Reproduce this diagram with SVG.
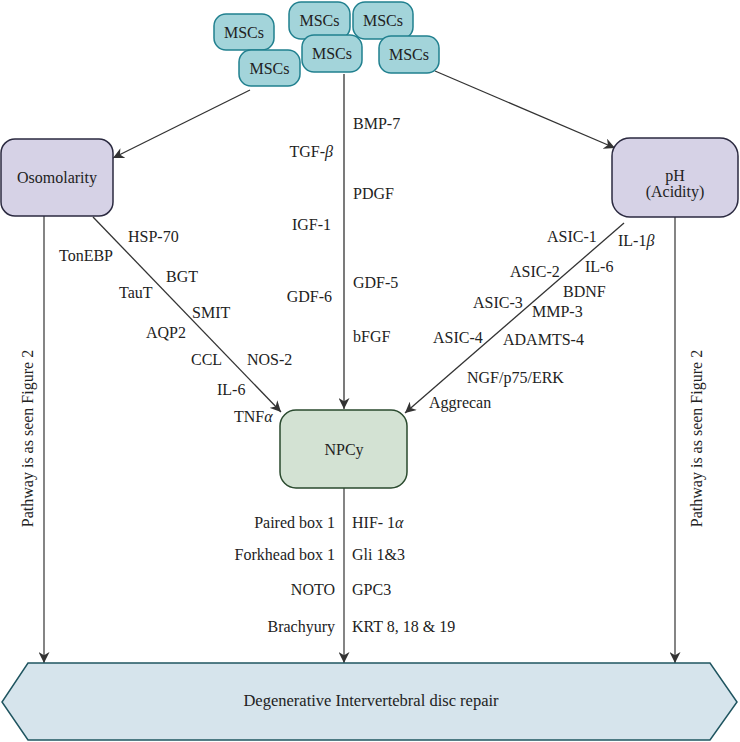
<svg xmlns="http://www.w3.org/2000/svg" width="740" height="742" viewBox="0 0 740 742" font-family="'Liberation Serif', serif">
<style>
svg text{font-family:'Liberation Serif','DejaVu Serif',serif;font-size:16px;fill:#222}
.msc rect{fill:#a3d4da;stroke:#21808f;stroke-width:1.5}
.env rect{fill:#d6d2e6;stroke:#2b2a40;stroke-width:1.5}
.npc rect{fill:#d3e2d3;stroke:#2a4a2e;stroke-width:1.5}
.c{text-anchor:middle}
.e{text-anchor:end}
.arr{stroke:#333;stroke-width:1.3;fill:none;marker-end:url(#ah)}
.vl{stroke:#666;stroke-width:1.6;fill:none;marker-end:url(#ah)}
</style>
<defs>
<marker id="ah" viewBox="0 0 10 10" refX="10" refY="5" markerWidth="11" markerHeight="11" markerUnits="userSpaceOnUse" orient="auto">
<path d="M0,0 L10,5 L0,10 L3,5 z" fill="#333"/>
</marker>
</defs>
<rect width="740" height="742" fill="#fff"/>

<g id="connectors">
<line class="arr" x1="250" y1="90" x2="113" y2="158"/>
<line class="arr" x1="344" y1="74" x2="344" y2="409"/>
<line class="arr" x1="435" y1="71" x2="615" y2="148"/>
<line class="arr" x1="93" y1="217" x2="281" y2="412"/>
<line class="arr" x1="624" y1="223" x2="405" y2="413"/>
<line class="vl" x1="44" y1="216" x2="44" y2="663"/>
<line class="vl" x1="675" y1="217" x2="675" y2="663"/>
<line class="vl" x1="344" y1="488" x2="344" y2="663"/>
</g>

<g id="msc1" class="msc"><rect x="214" y="14" width="60" height="36" rx="12"/><text class="c" x="244" y="38">MSCs</text></g>
<g id="msc2" class="msc"><rect x="239" y="50" width="61" height="36" rx="12"/><text class="c" x="269.5" y="74">MSCs</text></g>
<g id="msc3" class="msc"><rect x="289" y="2" width="61" height="37" rx="12"/><text class="c" x="319.5" y="26">MSCs</text></g>
<g id="msc4" class="msc"><rect x="302" y="35" width="60" height="37" rx="12"/><text class="c" x="332" y="59">MSCs</text></g>
<g id="msc5" class="msc"><rect x="353" y="2" width="60" height="37" rx="12"/><text class="c" x="383" y="26">MSCs</text></g>
<g id="msc6" class="msc"><rect x="379" y="36" width="60" height="37" rx="12"/><text class="c" x="409" y="60">MSCs</text></g>

<g id="osmolarity" class="env"><rect x="1" y="139" width="112" height="77" rx="14"/><text class="c" x="57" y="183">Osomolarity</text></g>
<g id="ph" class="env"><rect x="612" y="138" width="126" height="79" rx="18"/><text class="c" x="675" y="181">pH</text><text class="c" x="675" y="197">(Acidity)</text></g>
<g id="npcy" class="npc"><rect x="280" y="410" width="127" height="78" rx="16"/><text class="c" x="344" y="455">NPCy</text></g>

<g id="repair">
<polygon points="28,663 710,663 737,702 710,740 28,740 2,702" fill="#d6e4ec" stroke="#1f5560" stroke-width="1.5"/>
<text class="c" x="371" y="706" style="font-size:16.5px">Degenerative Intervertebral disc repair</text>
</g>

<g id="labels">
<text x="33" y="438.5" class="c" transform="rotate(-90 33 438.5)">Pathway is as seen Figure 2</text>
<text x="702" y="438.5" class="c" transform="rotate(-90 702 438.5)">Pathway is as seen Figure 2</text>

<text x="128" y="242">HSP-70</text>
<text x="59" y="261">TonEBP</text>
<text x="166" y="282">BGT</text>
<text x="119" y="298">TauT</text>
<text x="192" y="318">SMIT</text>
<text x="146" y="338">AQP2</text>
<text x="191" y="365">CCL</text>
<text x="247" y="365">NOS-2</text>
<text x="217" y="395">IL-6</text>
<text x="234" y="422">TNF<tspan font-style="italic">α</tspan></text>

<text x="353" y="129">BMP-7</text>
<text class="e" x="333" y="157">TGF-<tspan font-style="italic">β</tspan></text>
<text x="353" y="199">PDGF</text>
<text class="e" x="331" y="230">IGF-1</text>
<text x="353" y="288">GDF-5</text>
<text class="e" x="332" y="302">GDF-6</text>
<text x="353" y="342">bFGF</text>

<text x="547" y="242">ASIC-1</text>
<text x="618" y="246">IL-1<tspan font-style="italic">β</tspan></text>
<text x="510" y="277">ASIC-2</text>
<text x="585" y="272">IL-6</text>
<text x="563" y="297">BDNF</text>
<text x="473" y="308">ASIC-3</text>
<text x="532" y="317">MMP-3</text>
<text x="433" y="343">ASIC-4</text>
<text x="503" y="345">ADAMTS-4</text>
<text x="467" y="383">NGF/p75/ERK</text>
<text x="429" y="408">Aggrecan</text>

<text class="e" x="335" y="528">Paired box 1</text>
<text x="352" y="528">HIF- 1<tspan font-style="italic">α</tspan></text>
<text class="e" x="335" y="560">Forkhead box 1</text>
<text x="352" y="560">Gli 1&amp;3</text>
<text class="e" x="335" y="595">NOTO</text>
<text x="352" y="595">GPC3</text>
<text class="e" x="335" y="632">Brachyury</text>
<text x="352" y="632">KRT 8, 18 &amp; 19</text>
</g>
</svg>
